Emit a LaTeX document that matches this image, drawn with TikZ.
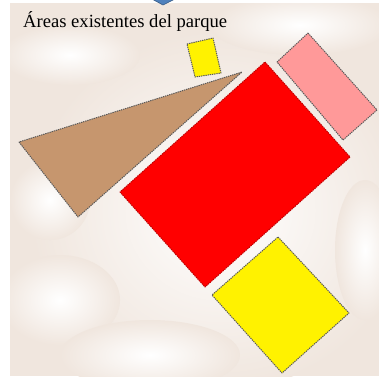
\documentclass[tikz,border=0pt]{standalone}
\usepackage{fontspec}
\setmainfont{Liberation Serif}
\begin{document}
\begin{tikzpicture}[x=1pt,y=-1pt,
  area/.style={draw=black!65, dash pattern=on 1.3pt off 0.9pt, line width=1pt, line join=round},
  blob/.style={shading=radial, inner color=white, outer color=bgc}]
\definecolor{bgc}{RGB}{240,230,222}
\definecolor{tan}{RGB}{198,150,110}
\definecolor{pinkish}{RGB}{255,153,153}
\definecolor{bluetip}{RGB}{79,129,189}
\useasboundingbox (0,0) rectangle (379,376);
\fill[white] (0,0) rectangle (379,376);
\begin{scope}
\clip (10,3) rectangle (379,376);
\fill[bgc] (10,3) rectangle (379,376);
\shade[blob] (220,210) ellipse (190 and 180);
\shade[blob] (70,55) ellipse (70 and 30);
\shade[blob] (300,25) ellipse (90 and 30);
\shade[blob] (50,200) ellipse (40 and 40);
\shade[blob] (60,300) ellipse (60 and 45);
\shade[blob] (150,355) ellipse (90 and 35);
\shade[blob] (365,250) ellipse (30 and 70);
\end{scope}
\fill[bluetip, draw=bluetip!70!black, line width=0.6pt] (152,-1) -- (175,-1) -- (163,5) -- cycle;
\node[anchor=base west, inner sep=0pt, font=\fontsize{18.6}{20}\selectfont] (title) at (23,27) {Áreas existentes del parque};
\filldraw[area, fill=yellow] (187,44) -- (213,38) -- (221,73) -- (195,77) -- cycle;
\filldraw[area, fill=pinkish] (308,33) -- (377,110) -- (343,140) -- (277,62) -- cycle;
\filldraw[area, fill=red, draw=red!75!black] (265,62) -- (350,157) -- (205,287) -- (120,192) -- cycle;
\filldraw[area, fill=tan] (19,142) -- (78,217) -- (242,72) -- cycle;
\filldraw[area, fill=yellow] (278,237) -- (349,313) -- (282,373) -- (212,295) -- cycle;
\end{tikzpicture}
\end{document}
